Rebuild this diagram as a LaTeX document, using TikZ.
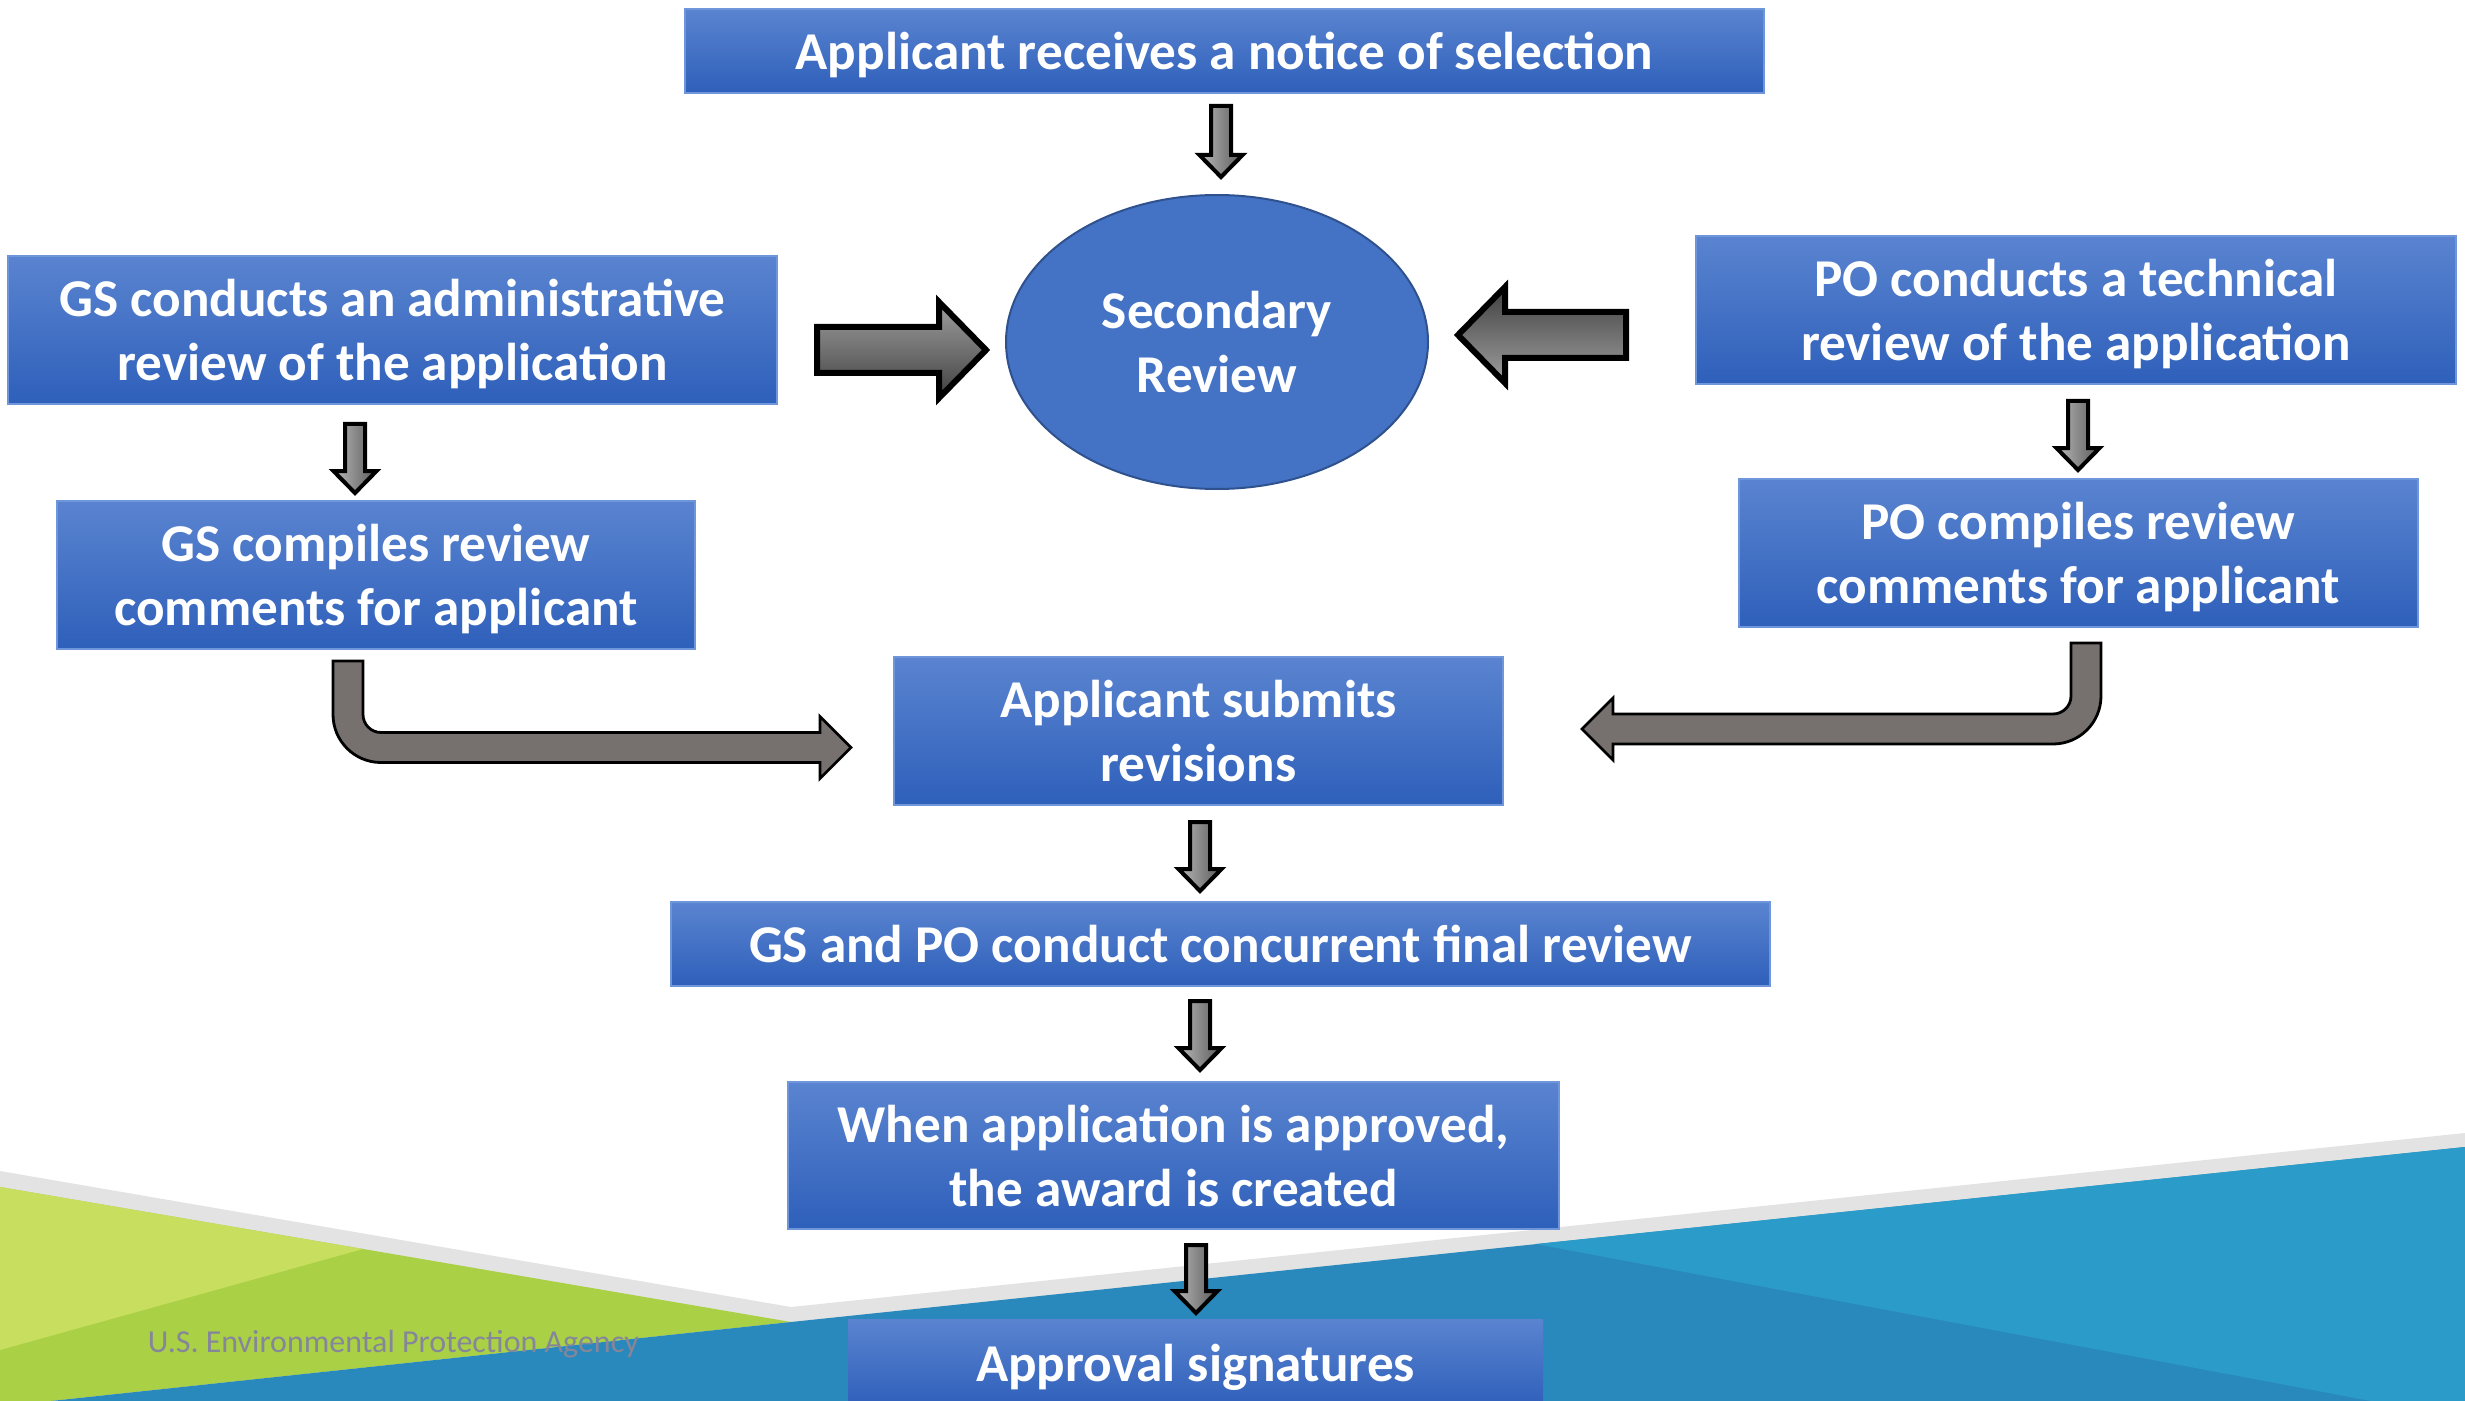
\documentclass[tikz,border=0pt]{standalone}
\usepackage{fontspec}
\setmainfont{Carlito}
\usepackage{tikz}
\usetikzlibrary{calc, positioning, shapes, arrows.meta}

\definecolor{boxtop}{HTML}{5A84D0}
\definecolor{boxbot}{HTML}{2E5FBA}
\definecolor{boxline}{HTML}{6F96DA}
\definecolor{ovalfill}{HTML}{4472C4}
\definecolor{ovalline}{HTML}{2F528F}
\definecolor{bentgray}{HTML}{76716F}
\definecolor{stripe}{HTML}{E3E3E3}
\definecolor{lightgreen}{HTML}{C8DE5F}
\definecolor{midgreen}{HTML}{AAD046}
\definecolor{darkblue}{HTML}{2A89BC}
\definecolor{lightblue}{HTML}{2B9CCA}
\definecolor{epagray}{HTML}{85869A}

\newlength{\px}
\setlength{\px}{0.25pt}

% small down arrow: #1 top of shaft, #2 tip
\newcommand{\downblk}[2]{%
	\path[dnshade] let \p1=(#1), \p2=(#2) in
		(\x1-2.5pt,\y1) -- (\x1+2.5pt,\y1) -- (\x1+2.5pt,\y2+5.5pt) -- (\x1+5.4pt,\y2+5.5pt)
		-- (\x1,\y2) -- (\x1-5.4pt,\y2+5.5pt) -- (\x1-2.5pt,\y2+5.5pt) -- cycle;}

% big arrows into the oval: #1 tail, #2 tip
\newcommand{\rightblk}[2]{%
	\path[bigshade, top color=gray!75, bottom color=black!75] let \p1=(#1), \p2=(#2) in
		(\x1,\y1+5.75pt) -- (\x2-11.75pt,\y1+5.75pt) -- (\x2-11.75pt,\y1+12pt) -- (\x2,\y1)
		-- (\x2-11.75pt,\y1-12pt) -- (\x2-11.75pt,\y1-5.75pt) -- (\x1,\y1-5.75pt) -- cycle;}
\newcommand{\leftblk}[2]{%
	\path[bigshade, top color=black!75, bottom color=gray!75] let \p1=(#1), \p2=(#2) in
		(\x1,\y1+5.75pt) -- (\x2+11.75pt,\y1+5.75pt) -- (\x2+11.75pt,\y1+12pt) -- (\x2,\y1)
		-- (\x2+11.75pt,\y1-12pt) -- (\x2+11.75pt,\y1-5.75pt) -- (\x1,\y1-5.75pt) -- cycle;}

% bent arrows: #1 top of the down leg, #2 tip
\newcommand{\bentright}[2]{%
	\path[bentblk] let \p1=(#1), \p2=(#2) in
		(\x1-3.75pt,\y1) -- (\x1-3.75pt,\y2+8.25pt) arc[start angle=180, end angle=270, radius=12pt]
		-- (\x2-7.75pt,\y2-3.75pt) -- (\x2-7.75pt,\y2-7.75pt) -- (\x2,\y2) -- (\x2-7.75pt,\y2+7.75pt)
		-- (\x2-7.75pt,\y2+3.75pt) -- (\x1+8.25pt,\y2+3.75pt) arc[start angle=270, end angle=180, radius=4.5pt]
		-- (\x1+3.75pt,\y1) -- cycle;}
\newcommand{\bentleft}[2]{%
	\path[bentblk] let \p1=(#1), \p2=(#2) in
		(\x1+3.75pt,\y1) -- (\x1+3.75pt,\y2+8.25pt) arc[start angle=0, end angle=-90, radius=12pt]
		-- (\x2+7.75pt,\y2-3.75pt) -- (\x2+7.75pt,\y2-7.75pt) -- (\x2,\y2) -- (\x2+7.75pt,\y2+7.75pt)
		-- (\x2+7.75pt,\y2+3.75pt) -- (\x1-8.25pt,\y2+3.75pt) arc[start angle=-90, end angle=0, radius=4.5pt]
		-- (\x1-3.75pt,\y1) -- cycle;}

\begin{document}
\begin{tikzpicture}[x=0.25pt, y=-0.25pt,
	stepbox/.style={rectangle, draw=boxline, line width=0.5pt, top color=boxtop, bottom color=boxbot,
		text=white, align=center, inner sep=0pt, text depth=0pt, font=\fontsize{13.3}{16}\selectfont\bfseries},
	oval/.style={ellipse, draw=ovalline, line width=0.5pt, fill=ovalfill, text=white, align=center,
		inner sep=0pt, font=\fontsize{13.3}{16}\selectfont\bfseries},
	dnshade/.style={draw=black, line width=1pt, left color=gray!55, right color=black!65},
	bigshade/.style={draw=black, line width=1.5pt},
	bentblk/.style={draw=black, line width=0.7pt, fill=bentgray}]

		\useasboundingbox (0,0) rectangle (2465,1401);

		% background strips at the bottom %
		\fill[stripe] (0,1171) -- (791,1307) -- (2465,1133) -- (2465,1401) -- (0,1401) -- cycle;
		\fill[midgreen] (0,1187) -- (791,1322) -- (51,1401) -- (0,1401) -- cycle;
		\fill[lightgreen] (0,1187) -- (363,1249) -- (0,1350) -- cycle;
		\fill[darkblue] (791,1322) -- (2465,1147) -- (2465,1401) -- (51,1401) -- cycle;
		\fill[lightblue] (1536,1244) -- (2465,1147) -- (2465,1401) -- (2371,1401) -- cycle;
		\node[anchor=west, inner sep=0pt, text=epagray, font=\fontsize{8}{10}\selectfont] (epa) at (147,1344) {U.S. Environmental Protection Agency};

		% nodes %
		\node[stepbox, minimum width=1079*\px, minimum height=84*\px] (top) at (1224.5,51) {Applicant receives a notice of selection};
		\node[oval, minimum width=422*\px, minimum height=294*\px] (sec) at (1217,342) {Secondary\\Review};
		\node[stepbox, minimum width=769*\px, minimum height=148*\px] (gsadm) at (392.5,330) {GS conducts an administrative\\review of the application};
		\node[stepbox, minimum width=638*\px, minimum height=148*\px] (gscomp) at (376,575) {GS compiles review\\comments for applicant};
		\node[stepbox, minimum width=760*\px, minimum height=148*\px] (poadm) at (2076,310) {PO conducts a technical\\review of the application};
		\node[stepbox, minimum width=679*\px, minimum height=148*\px] (pocomp) at (2078.5,553) {PO compiles review\\comments for applicant};
		\node[stepbox, minimum width=609*\px, minimum height=148*\px] (submit) at (1198.5,731) {Applicant submits\\revisions};
		\node[stepbox, minimum width=1099*\px, minimum height=84*\px] (final) at (1220.5,944) {GS and PO conduct concurrent final review};
		\node[stepbox, minimum width=771*\px, minimum height=147*\px] (award) at (1173.5,1155.5) {When application is approved,\\the award is created};
		\node[stepbox, draw=none, fill=ovalfill, minimum width=695*\px, minimum height=88*\px] (approval) at (1195.5,1363) {Approval signatures};

		% edges %
		\downblk{$(top.south)+(-3.5,12)$}{$(sec.north)+(4,-17)$}
		\downblk{$(gsadm.south)+(-37.5,19)$}{$(gscomp.north)+(-21,-7)$}
		\downblk{$(poadm.south)+(2,16)$}{$(pocomp.north)+(-0.5,-8)$}
		\downblk{$(submit.south)+(1.5,16)$}{$(final.north)+(-20.5,-10)$}
		\downblk{$(final.south)+(-20.5,14)$}{$(award.north)+(26.5,-11)$}
		\downblk{$(award.south)+(22.5,15)$}{$(approval.north)+(1,-5)$}
		\rightblk{$(gsadm.east)+(39,20)$}{$(sec.west)+(-19,8)$}
		\leftblk{$(poadm.west)+(-69,25)$}{$(sec.east)+(29,-7)$}
		\bentright{$(gscomp.south)+(-28,11)$}{$(submit.west)+(-42,16.5)$}
		\bentleft{$(pocomp.south)+(7.5,15)$}{$(submit.east)+(78,-2)$}

\end{tikzpicture}
\end{document}
